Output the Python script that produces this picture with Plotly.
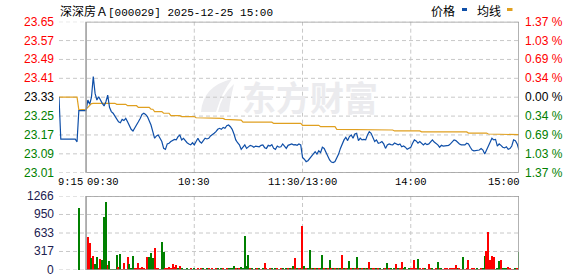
import plotly.graph_objects as go

W, H = 578, 276

# ---------------- data ----------------
pre_close = 23.33
price_levels = [23.65, 23.57, 23.49, 23.41, 23.33, 23.25, 23.17, 23.09, 23.01]
pct_labels = ["1.37 %", "1.03 %", "0.69 %", "0.34 %", "0.00 %", "0.34 %", "0.69 %", "1.03 %", "1.37 %"]
vol_levels = [1266, 950, 633, 317, 0]
time_labels = ["9:15", "09:30", "10:30", "11:30/13:00", "14:00", "15:00"]
time_minutes = [0, 15, 75, 135, 195, 255]   # minutes since 9:15, lunch removed

# pre-market (9:15 - 9:29), one value per minute
pre_price = [23.33, 23.152, 23.152, 23.152, 23.152, 23.152, 23.152, 23.152, 23.152, 23.152,
             23.141, 23.273, 23.273, 23.273, 23.273]
pre_avg = [23.33, 23.33, 23.33, 23.33, 23.33, 23.33, 23.33, 23.33, 23.33, 23.33,
           23.33, 23.276, 23.276, 23.276, 23.276]
pre_vol_minute = [11]
pre_vol = [1065]

# session 9:30 - 15:00, one value per minute (241 values)
price = [
    23.273, 23.318, 23.300, 23.330, 23.417, 23.346, 23.318, 23.332, 23.315, 23.304,
    23.293, 23.311, 23.339, 23.287, 23.269, 23.262, 23.250, 23.240, 23.226, 23.222,
    23.236, 23.231, 23.240, 23.226, 23.212, 23.194, 23.187, 23.202, 23.212, 23.226,
    23.240, 23.257, 23.262, 23.257, 23.248, 23.233, 23.212, 23.184, 23.156, 23.166,
    23.170, 23.156, 23.142, 23.113, 23.109, 23.132, 23.135, 23.142, 23.146, 23.151,
    23.149, 23.163, 23.170, 23.149, 23.156, 23.146, 23.137, 23.132, 23.128, 23.137,
    23.128, 23.142, 23.156, 23.142, 23.135, 23.146, 23.156, 23.153, 23.156, 23.166,
    23.170, 23.177, 23.184, 23.194, 23.198, 23.194, 23.202, 23.198, 23.209, 23.212,
    23.205, 23.194, 23.174, 23.149, 23.137, 23.128, 23.109, 23.118, 23.128, 23.113,
    23.120, 23.126, 23.123, 23.118, 23.123, 23.120, 23.120, 23.126, 23.128, 23.116,
    23.113, 23.126, 23.123, 23.129, 23.113, 23.109, 23.123, 23.118, 23.120, 23.132,
    23.123, 23.113, 23.126, 23.129, 23.132, 23.128, 23.129, 23.126, 23.132, 23.128,
    23.075, 23.067, 23.057, 23.061, 23.071, 23.081, 23.092, 23.099, 23.089, 23.103,
    23.095, 23.118, 23.113, 23.095, 23.081, 23.064, 23.055, 23.053, 23.057, 23.071,
    23.089, 23.113, 23.132, 23.149, 23.160, 23.146, 23.163, 23.170, 23.156, 23.174,
    23.177, 23.146, 23.156, 23.149, 23.151, 23.149, 23.170, 23.184, 23.177, 23.156,
    23.142, 23.149, 23.135, 23.137, 23.142, 23.132, 23.113, 23.128, 23.132, 23.129,
    23.128, 23.136, 23.132, 23.128, 23.132, 23.120, 23.123, 23.118, 23.109, 23.113,
    23.118, 23.135, 23.149, 23.145, 23.135, 23.142, 23.135, 23.128, 23.135, 23.129,
    23.132, 23.140, 23.149, 23.140, 23.135, 23.128, 23.118, 23.126, 23.123, 23.123,
    23.123, 23.126, 23.132, 23.142, 23.149, 23.146, 23.137, 23.132, 23.128, 23.128,
    23.128, 23.135, 23.132, 23.118, 23.106, 23.103, 23.103, 23.103, 23.106, 23.112,
    23.106, 23.089, 23.106, 23.120, 23.137, 23.156, 23.149, 23.151, 23.123, 23.132,
    23.126, 23.118, 23.115, 23.120, 23.109, 23.112, 23.123, 23.149, 23.146, 23.132,
    23.106,
]

avg_price = [
    23.279, 23.287, 23.296, 23.303, 23.304, 23.304, 23.304, 23.304, 23.304, 23.304,
    23.304, 23.304, 23.304, 23.304, 23.304, 23.304, 23.304, 23.300, 23.300, 23.300,
    23.300, 23.300, 23.300, 23.294, 23.294, 23.294, 23.294, 23.294, 23.294, 23.287,
    23.287, 23.287, 23.287, 23.287, 23.287, 23.287, 23.279, 23.279, 23.269, 23.269,
    23.269, 23.269, 23.269, 23.262, 23.262, 23.262, 23.262, 23.252, 23.252, 23.252,
    23.252, 23.252, 23.252, 23.248, 23.248, 23.248, 23.248, 23.248, 23.248, 23.248,
    23.248, 23.243, 23.243, 23.243, 23.243, 23.243, 23.243, 23.243, 23.243, 23.243,
    23.240, 23.240, 23.240, 23.240, 23.240, 23.240, 23.240, 23.236, 23.236, 23.236,
    23.233, 23.233, 23.233, 23.233, 23.233, 23.233, 23.233, 23.224, 23.224, 23.224,
    23.224, 23.224, 23.224, 23.224, 23.224, 23.224, 23.224, 23.224, 23.224, 23.224,
    23.224, 23.224, 23.224, 23.224, 23.219, 23.219, 23.219, 23.219, 23.219, 23.219,
    23.219, 23.219, 23.219, 23.219, 23.219, 23.219, 23.219, 23.219, 23.219, 23.219,
    23.211, 23.211, 23.211, 23.211, 23.211, 23.211, 23.211, 23.211, 23.211, 23.211,
    23.205, 23.205, 23.205, 23.205, 23.205, 23.205, 23.205, 23.205, 23.205, 23.194,
    23.194, 23.194, 23.194, 23.194, 23.194, 23.194, 23.194, 23.194, 23.194, 23.194,
    23.194, 23.194, 23.194, 23.194, 23.194, 23.194, 23.194, 23.194, 23.194, 23.194,
    23.191, 23.191, 23.191, 23.191, 23.191, 23.191, 23.191, 23.191, 23.191, 23.191,
    23.191, 23.187, 23.187, 23.187, 23.187, 23.187, 23.187, 23.187, 23.187, 23.187,
    23.187, 23.187, 23.187, 23.187, 23.187, 23.187, 23.183, 23.183, 23.183, 23.183,
    23.183, 23.183, 23.183, 23.183, 23.183, 23.183, 23.183, 23.183, 23.183, 23.183,
    23.183, 23.183, 23.183, 23.183, 23.183, 23.183, 23.183, 23.183, 23.183, 23.183,
    23.183, 23.183, 23.178, 23.178, 23.178, 23.178, 23.178, 23.178, 23.178, 23.178,
    23.178, 23.178, 23.178, 23.174, 23.174, 23.174, 23.174, 23.174, 23.174, 23.174,
    23.174, 23.174, 23.174, 23.174, 23.174, 23.174, 23.174, 23.174, 23.174, 23.171,
    23.171,
]

volume = [
    0, 570, 467, 210, 240, 100, 228, 30, 188, 171,
    912, 1168, 85, 160, 17, 17, 17, 256, 57, 274,
    17, 125, 17, 228, 100, 30, 240, 20, 30, 125,
    20, 57, 20, 10, 222, 222, 296, 200, 376, 20,
    30, 15, 484, 313, 20, 30, 57, 20, 100, 57,
    85, 20, 70, 20, 10, 15, 20, 10, 30, 15,
    20, 10, 25, 15, 20, 30, 15, 40, 20, 10,
    25, 15, 30, 20, 15, 40, 20, 15, 25, 30,
    20, 40, 60, 25, 30, 20, 50, 40, 580, 60,
    250, 30, 20, 15, 25, 20, 30, 15, 40, 120,
    20, 15, 30, 20, 10, 25, 20, 15, 30, 20,
    15, 25, 20, 30, 40, 60, 200, 30, 20, 40,
    750, 60, 40, 30, 340, 40, 20, 30, 25, 40,
    30, 250, 40, 30, 20, 170, 30, 20, 40, 30,
    20, 30, 250, 40, 30, 20, 150, 30, 40, 20,
    220, 30, 20, 40, 30, 20, 25, 130, 20, 30,
    20, 30, 25, 20, 15, 30, 20, 114, 20, 30,
    15, 25, 100, 40, 30, 137, 20, 50, 15, 20,
    30, 40, 171, 30, 183, 20, 15, 25, 20, 15,
    100, 20, 25, 15, 20, 137, 20, 25, 15, 20,
    25, 15, 20, 25, 25, 85, 40, 20, 15, 217,
    10, 20, 171, 15, 20, 25, 15, 20, 15, 25,
    30, 240, 325, 655, 171, 240, 222, 10, 30, 154,
    171, 30, 40, 40, 50, 20, 10, 15, 20, 25, 313,
]

vol_dir = (
    "rrrgrggrrg" "ggrgggggrg" "rrgrgggrrr" "rrrrrgggrr" "rgggrrrrrr"
    "rgrgggggrg" "grrgrgrgrg" "rgrgrgrgrg" "gggrgrgggg" "grgrgrgrgr"
    "rgrgrgrgrg" "rgrgrgrgrg" "rgrggrgrgr" "ggrgrgrgrg" "rgrgrggrgr"
    "grgrgrgrgr" "rgrgrgrgrg" "rgrgrrggrg" "rrrrgrgrgr" "rrgrrgrgrr"
    "rrrrrrgrrg" "rrrrrrrgrr" "ggrrrrrggg" "rgggrrrrgrg"
)
pre_vol_dir = "g"

# ---------------- styling ----------------
RED = "#ff0000"
GREEN = "#008000"
BLUE = "#0f4fa8"
ORANGE = "#e0a020"
GRID = "#c8c8c8"
FRAME = "#999999"

X0, X1 = 59, 519      # pixel span of the time axis


def px(x):
    return x / W


def py(y):
    return 1 - y / H


session_minutes = list(range(15, 15 + len(price)))
pre_minutes = list(range(0, len(pre_price)))

fig = go.Figure()

# average line
fig.add_trace(go.Scatter(x=pre_minutes + session_minutes, y=pre_avg + avg_price,
                         mode="lines", line=dict(color=ORANGE, width=1.2),
                         xaxis="x", yaxis="y", hoverinfo="skip"))
# price line
fig.add_trace(go.Scatter(x=pre_minutes + session_minutes, y=pre_price + price,
                         mode="lines", line=dict(color=BLUE, width=1.2),
                         xaxis="x", yaxis="y", hoverinfo="skip"))

# volume bars
col = {"r": RED, "g": GREEN}
fig.add_trace(go.Bar(x=pre_vol_minute + session_minutes, y=pre_vol + volume,
                     marker=dict(color=[col[c] for c in pre_vol_dir + vol_dir], line=dict(width=0)),
                     width=0.6, xaxis="x2", yaxis="y2", hoverinfo="skip"))

shapes = []
# horizontal dashed grid lines (price)
for lv in price_levels:
    shapes.append(dict(type="line", xref="x", yref="y", x0=0, x1=255, y0=lv, y1=lv,
                       line=dict(color=GRID, width=1, dash="4px,3px"), layer="below"))
for lv in vol_levels:
    shapes.append(dict(type="line", xref="x2", yref="y2", x0=0, x1=255, y0=lv, y1=lv,
                       line=dict(color=GRID, width=1, dash="4px,3px"), layer="below"))
# vertical dashed grid lines
for m in time_minutes[2:5]:
    shapes.append(dict(type="line", xref="x", yref="y", x0=m, x1=m, y0=price_levels[-1], y1=price_levels[0],
                       line=dict(color=GRID, width=1, dash="4px,3px"), layer="below"))
    shapes.append(dict(type="line", xref="x2", yref="y2", x0=m, x1=m, y0=0, y1=vol_levels[0],
                       line=dict(color=GRID, width=1, dash="4px,3px"), layer="below"))
# frames
shapes.append(dict(type="rect", xref="x", yref="y", x0=15, x1=255, y0=price_levels[-1], y1=price_levels[0],
                   line=dict(color=FRAME, width=1.5), fillcolor="rgba(0,0,0,0)", layer="above"))
shapes.append(dict(type="rect", xref="x2", yref="y2", x0=15, x1=255, y0=0, y1=vol_levels[0],
                   line=dict(color=FRAME, width=1.5), fillcolor="rgba(0,0,0,0)", layer="above"))
# legend swatches
shapes.append(dict(type="rect", xref="paper", yref="paper", x0=px(462), x1=px(467), y0=py(11), y1=py(8),
                   fillcolor=BLUE, line=dict(width=0)))
shapes.append(dict(type="rect", xref="paper", yref="paper", x0=px(507), x1=px(512.5), y0=py(11), y1=py(8),
                   fillcolor=ORANGE, line=dict(width=0)))
# watermark logo (approximate)
shapes.append(dict(type="path", xref="paper", yref="paper", layer="below",
                   path=f"M {px(201)},{py(112)} Q {px(203)},{py(86)} {px(232)},{py(79)} "
                        f"Q {px(222)},{py(92)} {px(216)},{py(112)} Z",
                   fillcolor="#ececef", line=dict(width=0)))
shapes.append(dict(type="path", xref="paper", yref="paper", layer="below",
                   path=f"M {px(218)},{py(112)} Q {px(222)},{py(94)} {px(234)},{py(84)} "
                        f"Q {px(230)},{py(100)} {px(229)},{py(112)} Z",
                   fillcolor="#ececef", line=dict(width=0)))

annotations = []
LABEL_FONT = "Liberation Sans, Arial, sans-serif"
for i, (lv, pl) in enumerate(zip(price_levels, pct_labels)):
    c = RED if lv > pre_close else (GREEN if lv < pre_close else "#000000")
    annotations.append(dict(x=px(56), y=lv, xref="paper", yref="y", text=f"{lv:.2f}",
                            xanchor="right", yanchor="middle", showarrow=False,
                            font=dict(family=LABEL_FONT, size=12, color=c)))
    annotations.append(dict(x=px(523), y=lv, xref="paper", yref="y", text=pl,
                            xanchor="left", yanchor="middle", showarrow=False,
                            font=dict(family=LABEL_FONT, size=12, color=c)))
for lv in vol_levels:
    annotations.append(dict(x=px(56), y=lv, xref="paper", yref="y2", text=str(lv),
                            xanchor="right", yanchor="middle", showarrow=False,
                            font=dict(family=LABEL_FONT, size=12, color="#202050")))
TIME_FONT = "Liberation Mono, DejaVu Sans Mono, monospace"
anchors = ["left", "left", "center", "center", "center", "right"]
offsets = [-2, 0, 0, 0, 0, 2]
for lab, m, a, o in zip(time_labels, time_minutes, anchors, offsets):
    xpix = X0 + (X1 - X0) * m / 255 + o
    annotations.append(dict(x=px(xpix), y=py(182), xref="paper", yref="paper", text=lab,
                            xanchor=a, yanchor="middle", showarrow=False, borderpad=0,
                            font=dict(family=TIME_FONT, size=10.5, color="#000000")))
# title
annotations.append(dict(x=px(58), y=py(10), xref="paper", yref="paper",
                        text='<span style="font-family:Noto Sans CJK SC;font-size:12px">深深房Ａ</span>[000029] 2025-12-25 15:00',
                        xanchor="left", yanchor="middle", showarrow=False,
                        font=dict(family=TIME_FONT, size=11, color="#000000")))
# legend text
for t, x in [("价格", 443), ("均线", 488.5)]:
    annotations.append(dict(x=px(x), y=py(10), xref="paper", yref="paper", text=t,
                            xanchor="center", yanchor="middle", showarrow=False,
                            font=dict(family="Noto Sans CJK SC", size=12, color="#000000")))
# watermark text
annotations.append(dict(x=px(310), y=py(96), xref="paper", yref="paper", text="<b>东方财富</b>",
                        xanchor="center", yanchor="middle", showarrow=False,
                        font=dict(family="Noto Sans CJK SC", size=34, color="#ebebee")))

fig.update_layout(
    width=W, height=H,
    margin=dict(l=0, r=0, t=0, b=0),
    paper_bgcolor="white", plot_bgcolor="rgba(0,0,0,0)",
    showlegend=False,
    bargap=0,
    xaxis=dict(domain=[px(X0), px(X1)], range=[0, 255], visible=False, fixedrange=True),
    yaxis=dict(domain=[py(172.7), py(21.7)], range=[price_levels[-1], price_levels[0]],
               visible=False, fixedrange=True),
    xaxis2=dict(domain=[px(X0), px(X1)], range=[0, 255], visible=False, anchor="y2", fixedrange=True),
    yaxis2=dict(domain=[py(270), py(196)], range=[0, vol_levels[0]], visible=False, anchor="x2",
                fixedrange=True),
    shapes=shapes,
    annotations=annotations,
)

fig.write_html("out.html")
